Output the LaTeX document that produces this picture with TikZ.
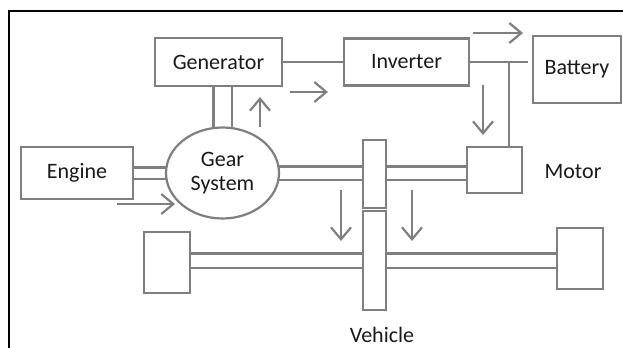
\documentclass[tikz,border=0pt]{standalone}
\usepackage{fontspec}
\setmainfont{Carlito}
\usetikzlibrary{shapes.geometric, arrows.meta, backgrounds}
\definecolor{partgray}{HTML}{7F7F7F}
\definecolor{labeltext}{HTML}{1A1A1A}
\tikzset{
  partbox/.style={
    draw=partgray, line width=1.1pt, fill=white, align=center,
    font=\fontsize{11}{12}\selectfont, text=labeltext, inner sep=0pt
  },
  partlabel/.style={
    font=\fontsize{11}{12}\selectfont, text=labeltext, inner sep=0pt
  },
  shaft/.style={
    draw=partgray, line width=1.1pt, double=white
  },
  wire/.style={
    draw=partgray, line width=1.1pt
  },
  flowarrow/.style={
    -{Straight Barb[length=6pt, width=10pt]}, draw=partgray, line width=1.1pt
  },
  framerule/.style={
    draw=black, line width=0.8pt
  },
}

\begin{document}
\begin{tikzpicture}[x=0.5pt, y=-0.5pt]
  \useasboundingbox (0,0) rectangle (623,348);
  % Frame
  \draw[framerule] (9,348) -- (9,11) -- (623,11);

  % Upper row
  \node[partbox, minimum width=63.5pt, minimum height=24pt] (gen) at (218.5,62) {Generator};
  \node[partbox, minimum width=62.5pt, minimum height=23.5pt] (inv) at (406.5,62) {Inverter};
  \node[partbox, minimum width=44pt, minimum height=33.5pt] (bat) at (577,69.5) {Battery};

  % Middle row
  \node[partbox, minimum width=56pt, minimum height=26pt] (eng) at (77,173) {Engine};
  \node[partbox, ellipse, minimum width=56.5pt, minimum height=45.5pt] (gear) at (222.5,173) {Gear\\System};
  \node[partbox, minimum width=11.5pt, minimum height=34pt] (ubar) at (374.5,174) {};
  \node[partbox, minimum width=27.5pt, minimum height=23pt] (mot) at (494.5,170) {};
  \node[partlabel] (motlabel) at (573,172) {Motor};

  % Lower row
  \node[partbox, minimum width=11.5pt, minimum height=49.5pt] (lbar) at (374.5,260.5) {};
  \node[partbox, minimum width=23pt, minimum height=30.5pt] (lwheel) at (167,262.5) {};
  \node[partbox, minimum width=23pt, minimum height=30.5pt] (rwheel) at (580,258.5) {};
  \node[partlabel] (vehlabel) at (382,335) {Vehicle};

  % Shafts
  \begin{scope}[on background layer]
    \draw[shaft, double distance=4.5pt] (eng.center) -- (eng.center -| gear.center);
    \draw[shaft, double distance=8pt] (gear.center |- gen.center) -- (gear.center);
    \draw[shaft, double distance=5.5pt] (gear.center) -- (gear.center -| mot.center);
    \draw[shaft, double distance=6pt] (lwheel.center |- lbar.center) -- (rwheel.center |- lbar.center);
  \end{scope}

  % Electric lines
  \draw[wire] (gen) -- (inv);
  \draw[wire, shorten >=2pt] (inv.east) -- (inv.east -| bat.west);
  \coordinate (tap) at (509,62);
  \draw[wire] (tap) -- (tap |- mot.north);

  % Power flow
  \coordinate (genup) at (260,127);
  \coordinate (genupend) at (260,97);
  \draw[flowarrow] (genup) -- (genupend);
  \coordinate (toinv) at (290,92);
  \coordinate (toinvend) at (328,92);
  \draw[flowarrow] (toinv) -- (toinvend);
  \coordinate (tobat) at (473,33);
  \coordinate (tobatend) at (523,33);
  \draw[flowarrow] (tobat) -- (tobatend);
  \coordinate (tomot) at (483,85);
  \coordinate (tomotend) at (483,135);
  \draw[flowarrow] (tomot) -- (tomotend);
  \coordinate (toGear) at (117,204);
  \coordinate (toGearend) at (175,204);
  \draw[flowarrow] (toGear) -- (toGearend);
  \coordinate (drivel) at (341,190);
  \coordinate (drivelend) at (341,241);
  \draw[flowarrow] (drivel) -- (drivelend);
  \coordinate (driver) at (412,190);
  \coordinate (driverend) at (412,241);
  \draw[flowarrow] (driver) -- (driverend);
\end{tikzpicture}
\end{document}
